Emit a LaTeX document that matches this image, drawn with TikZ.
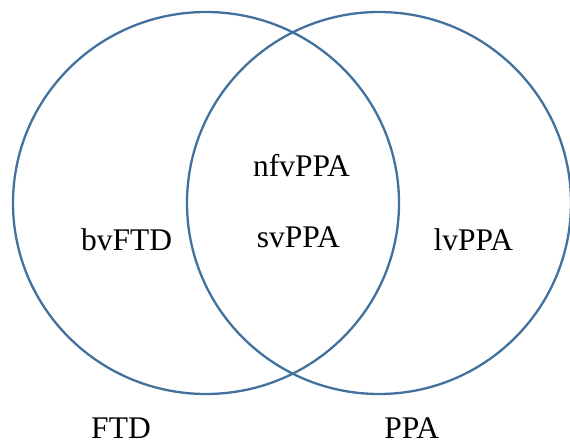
\documentclass[tikz,border=0pt]{standalone}
\usepackage{fontspec}
\setmainfont{Liberation Serif}
\definecolor{ringblue}{RGB}{65,113,156}
\begin{document}
\begin{tikzpicture}[x=1pt,y=1pt,
  ring/.style={draw=ringblue,line width=2.3pt},
  lbl/.style={anchor=base,inner sep=0pt,font=\fontsize{31.5}{37}\selectfont}]
\useasboundingbox (0,0) rectangle (570,445);
\draw[ring] (206,242) ellipse [x radius=193,y radius=191];
\draw[ring] (379,242) ellipse [x radius=192,y radius=191];
\node[lbl] (bv) at (126.7,195) {bvFTD};
\node[lbl] (nfv) at (301.5,268.3) {nfvPPA};
\node[lbl] (sv) at (298.3,197) {svPPA};
\node[lbl] (lv) at (473.3,195) {lvPPA};
\node[lbl] (ftd) at (121,6.5) {FTD};
\node[lbl] (ppa) at (411.7,6.5) {PPA};
\end{tikzpicture}
\end{document}
